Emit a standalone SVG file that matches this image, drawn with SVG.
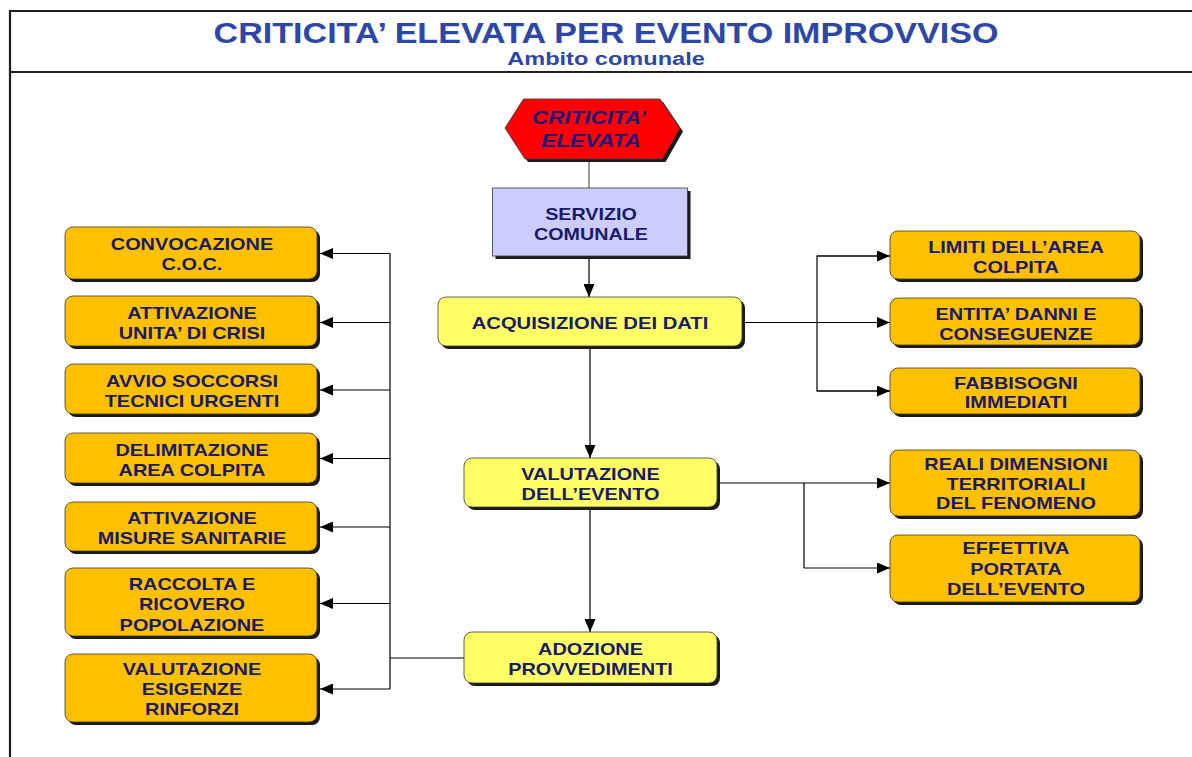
<svg xmlns="http://www.w3.org/2000/svg" width="1192" height="757" viewBox="0 0 1192 757">
<style>
.frame{stroke:#1e1e1e;stroke-width:2.2;fill:none}
.t{font-family:"Liberation Sans",Arial,sans-serif;font-weight:bold;font-size:17px;fill:#1a1a6a;text-anchor:middle}
.title{font-family:"Liberation Sans",Arial,sans-serif;font-weight:bold;font-size:29.5px;fill:#2c47a6;text-anchor:middle}
.sub{font-family:"Liberation Sans",Arial,sans-serif;font-weight:bold;font-size:19px;fill:#2c47a6;text-anchor:middle}
.hext{font-family:"Liberation Sans",Arial,sans-serif;font-weight:bold;font-style:italic;font-size:19px;fill:#1a1a7a;text-anchor:middle}
.sh{fill:#1a1a1a}
.or{fill:#ffc000;stroke:#3a3a3a;stroke-width:0.8}
.ye{fill:#ffff66;stroke:#3a3a3a;stroke-width:0.8}
.lav{fill:#ccccff;stroke:#3a3a3a;stroke-width:0.8}
.c{stroke:#000;stroke-width:1.2;fill:none}
.ca{stroke:#000;stroke-width:1.2;fill:none;marker-end:url(#arr)}
</style>
<defs>
<marker id="arr" markerUnits="userSpaceOnUse" markerWidth="13" markerHeight="11" refX="13" refY="5.5" orient="auto">
<path d="M0,0 L13,5.5 L0,11 Z" fill="#000"/>
</marker>
</defs>
<rect x="0" y="0" width="1192" height="757" fill="#ffffff"/>
<g id="header">
<line class="frame" x1="9" y1="11" x2="1192" y2="11"/>
<line class="frame" x1="9" y1="72" x2="1192" y2="72"/>
<line class="frame" x1="10" y1="10" x2="10" y2="757" stroke-width="2.6"/>
<text class="title" transform="translate(606,42.5) scale(1.155,1)">CRITICITA’ ELEVATA PER EVENTO IMPROVVISO</text>
<text class="sub" transform="translate(606,65) scale(1.24,1)">Ambito comunale</text>
</g>
<g id="connectors">
<line x1="589" y1="159" x2="589" y2="188" stroke="#808080" stroke-width="1.6"/>
<line class="ca" x1="589" y1="259" x2="589" y2="297"/>
<line class="ca" x1="590" y1="349" x2="590" y2="458"/>
<line class="ca" x1="590" y1="510" x2="590" y2="632"/>
<line class="ca" x1="745" y1="322.5" x2="890" y2="322.5"/>
<polyline class="c" points="890,256 817,256 817,391 890,391"/>
<line class="ca" x1="817" y1="256" x2="890" y2="256"/>
<line class="ca" x1="817" y1="391" x2="890" y2="391"/>
<line class="ca" x1="720" y1="483" x2="890" y2="483"/>
<line class="c" x1="804" y1="483" x2="804" y2="568"/>
<line class="ca" x1="804" y1="568" x2="890" y2="568"/>
<line class="c" x1="464" y1="658" x2="390" y2="658"/>
<line class="c" x1="390" y1="253.5" x2="390" y2="689"/>
<line class="ca" x1="390" y1="253.5" x2="320" y2="253.5"/>
<line class="ca" x1="390" y1="322.5" x2="320" y2="322.5"/>
<line class="ca" x1="390" y1="390" x2="320" y2="390"/>
<line class="ca" x1="390" y1="458.5" x2="320" y2="458.5"/>
<line class="ca" x1="390" y1="527" x2="320" y2="527"/>
<line class="ca" x1="390" y1="603.5" x2="320" y2="603.5"/>
<line class="ca" x1="390" y1="689" x2="320" y2="689"/>
</g>
<g id="criticita">
<polygon class="sh" points="526.5,102 663,102 683,131.5 665.5,162 528,162 508,131"/>
<polygon points="523.5,99 660,99 680,128.5 662.5,159 525,159 505,128" fill="#ff0000" stroke="#3a3a3a" stroke-width="0.8"/>
<text class="hext" transform="translate(589,123.5) scale(1.18,1)">CRITICITA’</text>
<text class="hext" transform="translate(591,147) scale(1.18,1)">ELEVATA</text>
</g>
<g id="servizio">
<rect class="sh" x="495.5" y="191" width="195" height="68"/>
<rect class="lav" x="492.5" y="188" width="195" height="68"/>
<text class="t" transform="translate(591,220) scale(1.16,1)">SERVIZIO</text>
<text class="t" transform="translate(591,240) scale(1.16,1)">COMUNALE</text>
</g>
<g id="acquisizione">
<rect class="sh" x="441" y="300" width="304" height="49" rx="8"/>
<rect class="ye" x="438" y="297" width="304" height="49" rx="8"/>
<text class="t" transform="translate(590,329) scale(1.19,1)">ACQUISIZIONE DEI DATI</text>
</g>
<g id="valutazione">
<rect class="sh" x="467" y="461" width="253" height="49" rx="8"/>
<rect class="ye" x="464" y="458" width="253" height="49" rx="8"/>
<text class="t" transform="translate(590.5,479.5) scale(1.17,1)">VALUTAZIONE</text>
<text class="t" transform="translate(590.5,500) scale(1.17,1)">DELL’EVENTO</text>
</g>
<g id="adozione">
<rect class="sh" x="467" y="635" width="253" height="51" rx="8"/>
<rect class="ye" x="464" y="632" width="253" height="51" rx="8"/>
<text class="t" transform="translate(590.5,654.5) scale(1.17,1)">ADOZIONE</text>
<text class="t" transform="translate(590.5,674.5) scale(1.17,1)">PROVVEDIMENTI</text>
</g>
<g id="limiti">
<rect class="sh" x="893" y="234" width="250" height="48" rx="8"/>
<rect class="or" x="890" y="231" width="250" height="48" rx="8"/>
<text class="t" transform="translate(1016,252.5) scale(1.17,1)">LIMITI DELL’AREA</text>
<text class="t" transform="translate(1016,272.5) scale(1.17,1)">COLPITA</text>
</g>
<g id="entita">
<rect class="sh" x="893" y="301" width="250" height="47" rx="8"/>
<rect class="or" x="890" y="298" width="250" height="47" rx="8"/>
<text class="t" transform="translate(1016,320) scale(1.17,1)">ENTITA’ DANNI E</text>
<text class="t" transform="translate(1016,339.5) scale(1.17,1)">CONSEGUENZE</text>
</g>
<g id="fabbisogni">
<rect class="sh" x="893" y="371" width="250" height="46" rx="8"/>
<rect class="or" x="890" y="368" width="250" height="46" rx="8"/>
<text class="t" transform="translate(1016,388.5) scale(1.17,1)">FABBISOGNI</text>
<text class="t" transform="translate(1016,407.5) scale(1.17,1)">IMMEDIATI</text>
</g>
<g id="reali">
<rect class="sh" x="893" y="453" width="250" height="66" rx="8"/>
<rect class="or" x="890" y="450" width="250" height="66" rx="8"/>
<text class="t" transform="translate(1016,469.5) scale(1.17,1)">REALI DIMENSIONI</text>
<text class="t" transform="translate(1016,489.5) scale(1.17,1)">TERRITORIALI</text>
<text class="t" transform="translate(1016,509) scale(1.17,1)">DEL FENOMENO</text>
</g>
<g id="effettiva">
<rect class="sh" x="893" y="538" width="250" height="67" rx="8"/>
<rect class="or" x="890" y="535" width="250" height="67" rx="8"/>
<text class="t" transform="translate(1016,554) scale(1.17,1)">EFFETTIVA</text>
<text class="t" transform="translate(1016,574.5) scale(1.17,1)">PORTATA</text>
<text class="t" transform="translate(1016,595) scale(1.17,1)">DELL’EVENTO</text>
</g>
<g id="convocazione">
<rect class="sh" x="68" y="230" width="252" height="52" rx="8"/>
<rect class="or" x="65" y="227" width="252" height="52" rx="8"/>
<text class="t" transform="translate(192,250) scale(1.17,1)">CONVOCAZIONE</text>
<text class="t" transform="translate(192,269.5) scale(1.17,1)">C.O.C.</text>
</g>
<g id="attivazione-unita">
<rect class="sh" x="68" y="299" width="252" height="50" rx="8"/>
<rect class="or" x="65" y="296" width="252" height="50" rx="8"/>
<text class="t" transform="translate(192,318.5) scale(1.17,1)">ATTIVAZIONE</text>
<text class="t" transform="translate(192,338.5) scale(1.17,1)">UNITA’ DI CRISI</text>
</g>
<g id="avvio">
<rect class="sh" x="68" y="367" width="252" height="50" rx="8"/>
<rect class="or" x="65" y="364" width="252" height="50" rx="8"/>
<text class="t" transform="translate(192,387) scale(1.17,1)">AVVIO SOCCORSI</text>
<text class="t" transform="translate(192,407) scale(1.17,1)">TECNICI URGENTI</text>
</g>
<g id="delimitazione">
<rect class="sh" x="68" y="436" width="252" height="50" rx="8"/>
<rect class="or" x="65" y="433" width="252" height="50" rx="8"/>
<text class="t" transform="translate(192,455.5) scale(1.17,1)">DELIMITAZIONE</text>
<text class="t" transform="translate(192,475.5) scale(1.17,1)">AREA COLPITA</text>
</g>
<g id="attivazione-misure">
<rect class="sh" x="68" y="505" width="252" height="49" rx="8"/>
<rect class="or" x="65" y="502" width="252" height="49" rx="8"/>
<text class="t" transform="translate(192,524) scale(1.17,1)">ATTIVAZIONE</text>
<text class="t" transform="translate(192,544) scale(1.17,1)">MISURE SANITARIE</text>
</g>
<g id="raccolta">
<rect class="sh" x="68" y="571" width="252" height="68" rx="8"/>
<rect class="or" x="65" y="568" width="252" height="68" rx="8"/>
<text class="t" transform="translate(192,590) scale(1.17,1)">RACCOLTA E</text>
<text class="t" transform="translate(192,610) scale(1.17,1)">RICOVERO</text>
<text class="t" transform="translate(192,630.5) scale(1.17,1)">POPOLAZIONE</text>
</g>
<g id="valutazione-esigenze">
<rect class="sh" x="68" y="657" width="252" height="68" rx="8"/>
<rect class="or" x="65" y="654" width="252" height="68" rx="8"/>
<text class="t" transform="translate(192,675) scale(1.17,1)">VALUTAZIONE</text>
<text class="t" transform="translate(192,695) scale(1.17,1)">ESIGENZE</text>
<text class="t" transform="translate(192,715) scale(1.17,1)">RINFORZI</text>
</g>
</svg>
